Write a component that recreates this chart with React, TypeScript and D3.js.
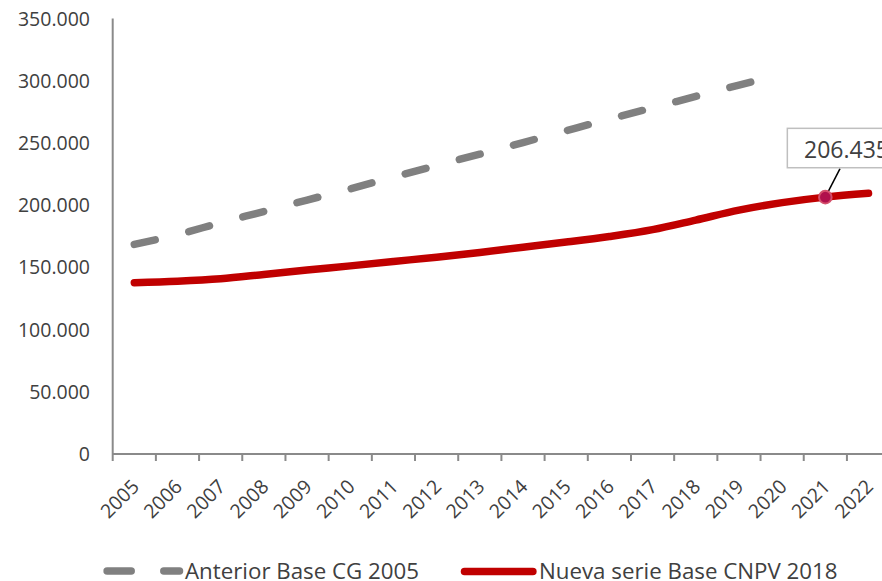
import React from "react";
import * as d3 from "d3";

const years = ["2005","2006","2007","2008","2009","2010","2011","2012","2013","2014","2015","2016","2017","2018","2019","2020","2021","2022"];
const anteriorYears = ["2005","2006","2007","2008","2009","2010","2011","2012","2013","2014","2015","2016","2017","2018","2019","2020"];
const anteriorValues = [168400,176300,185900,194900,204100,213100,222600,231900,241000,250300,259800,269200,278200,287400,296500,305000];
const nuevaValues = [137700,138900,140900,144300,147800,151200,154700,158200,162000,166200,170300,174800,180300,188000,196000,202000,206435,209500];
const yTicks = [0,50000,100000,150000,200000,250000,300000,350000];
const highlightYear = "2021";
const highlightLabel = "206.435";
const legendLabels = ["Anterior Base CG 2005", "Nueva serie Base CNPV 2018"];

const W = 882, H = 581;
const FONT = "'Open Sans', 'Noto Sans', sans-serif";
const TEXT = "#404040";
const AXIS = "#8a8a8a";

const locale = d3.formatLocale({ decimal: ",", thousands: ".", grouping: [3], currency: ["$", ""] });
const fmt = locale.format(",.0f");

export default function App() {
  const left = 112.7;
  const step = 43.19;
  const x = d3.scaleBand<string>().domain(years).range([left, left + step * years.length]).padding(0);
  const cx = (d: string) => (x(d) as number) + x.bandwidth() / 2;
  const y = d3.scaleLinear().domain([0, 350000]).range([454, 18.5]);

  const ant = anteriorYears.map((d, i) => [cx(d), y(anteriorValues[i])] as [number, number]);
  const nue = years.map((d, i) => [cx(d), y(nuevaValues[i])] as [number, number]);
  const line = d3.line().curve(d3.curveCatmullRom.alpha(0.5));

  const hi = years.indexOf(highlightYear);
  const px = cx(highlightYear);
  const py = y(nuevaValues[hi]);

  const tickXs = d3.range(years.length + 1).map((i) => left + i * x.bandwidth());

  return (
    <svg width={W} height={H} style={{ position: "absolute", left: 0, top: 0, background: "#fff" }} fontFamily={FONT}>
      <rect x={0} y={0} width={W} height={H} fill="#fff" />
      {/* y axis labels */}
      {yTicks.map((t) => (
        <text key={t} x={90} y={y(t)} dy="0.36em" textAnchor="end" fontSize={19.5} fill={TEXT}>
          {fmt(t)}
        </text>
      ))}
      {/* axes */}
      <line x1={left} x2={left} y1={y(350000)} y2={y(0)} stroke={AXIS} strokeWidth={2} />
      <line x1={left} x2={W} y1={y(0)} y2={y(0)} stroke={AXIS} strokeWidth={2} />
      {tickXs.map((tx, i) => (
        <line key={i} x1={tx} x2={tx} y1={y(0)} y2={y(0) + 7} stroke={AXIS} strokeWidth={2} />
      ))}
      {/* x labels */}
      {years.map((d) => (
        <text
          key={d}
          transform={`translate(${cx(d) + 1},${483}) rotate(-45)`}
          dy="0.36em"
          textAnchor="end"
          fontSize={19.5}
          fill={TEXT}
        >
          {d}
        </text>
      ))}
      {/* series */}
      <path d={line(ant) as string} fill="none" stroke="#808080" strokeWidth={7.5} strokeLinecap="round" strokeDasharray="21.5 34.5" />
      <path d={line(nue) as string} fill="none" stroke="#C00000" strokeWidth={7.5} strokeLinecap="round" strokeLinejoin="round" />
      {/* highlight */}
      <line x1={px + 14.7} y1={py - 28.5} x2={px} y2={py} stroke="#000" strokeWidth={1.5} />
      <circle cx={px} cy={py} r={6.3} fill="#B0104C" stroke="#D4506C" strokeWidth={2} />
      <rect x={px - 38} y={py - 68.8} width={120} height={39.4} fill="#fff" stroke="#BFBFBF" strokeWidth={1.5} />
      <text x={px - 21.3} y={py - 39.4} fontSize={23} fill={TEXT}>{highlightLabel}</text>
      {/* legend */}
      <line x1={107.1} x2={131.2} y1={571} y2={571} stroke="#808080" strokeWidth={7.5} strokeLinecap="round" />
      <line x1={163.8} x2={179.5} y1={571} y2={571} stroke="#808080" strokeWidth={7.5} strokeLinecap="round" />
      <text x={185} y={579} fontSize={22.3} fill={TEXT}>{legendLabels[0]}</text>
      <line x1={464.5} x2={532.9} y1={571.5} y2={571.5} stroke="#C00000" strokeWidth={7.5} strokeLinecap="round" />
      <text x={539} y={579} fontSize={22.3} fill={TEXT}>{legendLabels[1]}</text>
    </svg>
  );
}
